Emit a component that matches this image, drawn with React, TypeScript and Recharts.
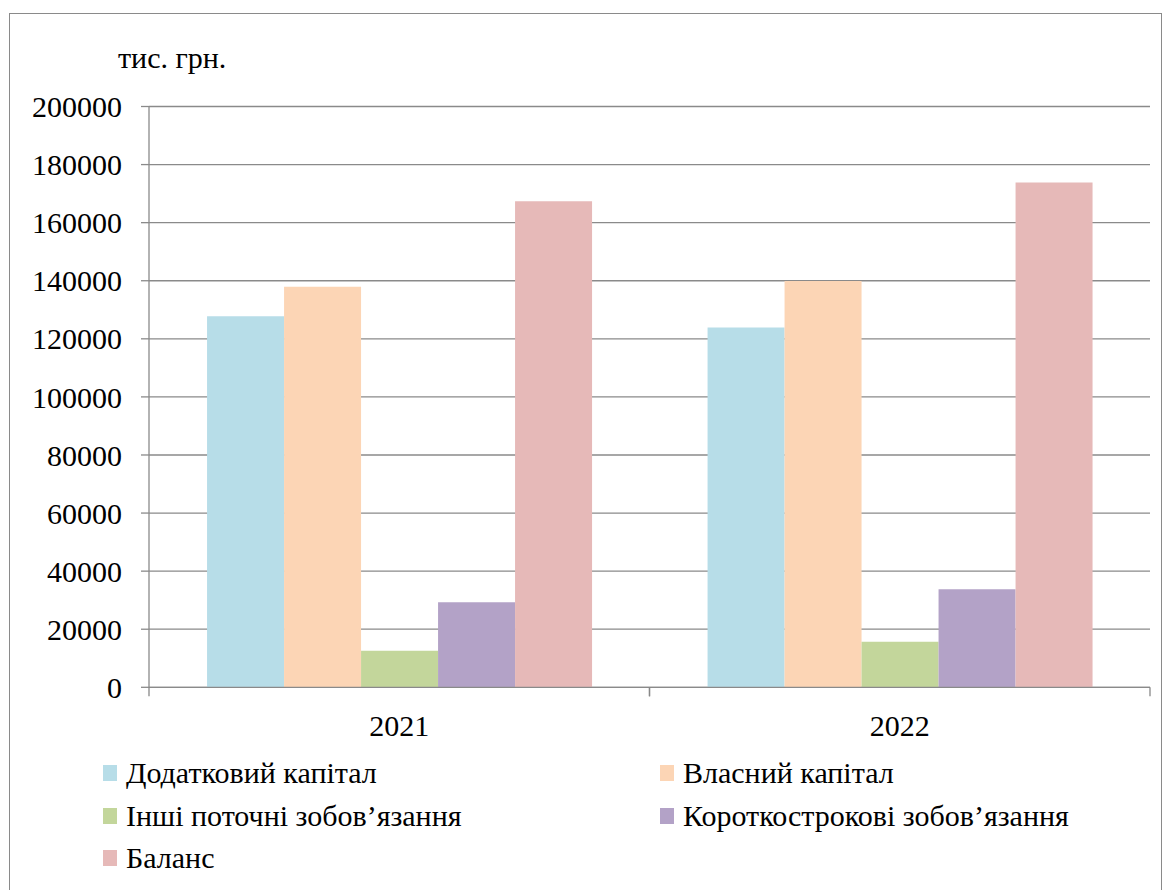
import { BarChart, Bar, XAxis, YAxis, CartesianGrid } from "recharts"

const years = ["2021", "2022"]
const seriesNames = [
  "Додатковий капітал",
  "Власний капітал",
  "Інші поточні зобов’язання",
  "Короткострокові зобов’язання",
  "Баланс",
]
const seriesColors = ["#B7DDE8", "#FCD5B5", "#C3D69B", "#B3A2C7", "#E6B9B8"]
const dodatkovyi = [127800, 123900]
const vlasnyi = [137900, 139900]
const inshi = [12600, 15700]
const korotko = [29300, 33800]
const balans = [167400, 173800]
const yTicks = [0, 20000, 40000, 60000, 80000, 100000, 120000, 140000, 160000, 180000, 200000]

const seriesValues = [dodatkovyi, vlasnyi, inshi, korotko, balans]

const data = years.map((year, i) => {
  const row: Record<string, string | number> = { year }
  seriesValues.forEach((vals, s) => {
    row["s" + s] = vals[i]
  })
  return row
})

const FONT = "Liberation Serif, Tinos, Times New Roman, Times, DejaVu Serif, Noto Serif, serif"
const PLOT_LEFT = 149
const PLOT_RIGHT = 1150
const BAND = (PLOT_RIGHT - PLOT_LEFT) / years.length

function YearTick(props: any) {
  const { x, y, payload } = props
  const left = x - BAND / 2
  const right = x + BAND / 2
  return (
    <g>
      <line x1={left} x2={left} y1={y} y2={y + 9} stroke="#888" strokeWidth={1.3} />
      <line x1={right} x2={right} y1={y} y2={y + 9} stroke="#888" strokeWidth={1.3} />
      <text x={x} y={y + 49} textAnchor="middle" style={{ fontFamily: FONT }} fontSize={30} fill="#000">
        {payload.value}
      </text>
    </g>
  )
}

export default function App() {
  return (
    <div style={{ position: "absolute", left: 0, top: 0, width: 1165, height: 890, background: "#fff", overflow: "hidden", fontFamily: FONT }}>
      <div
        style={{
          position: "absolute",
          left: 9,
          top: 13,
          width: 1153,
          height: 900,
          border: "1.3px solid #8a8a8a",
          boxSizing: "border-box",
        }}
      />
      <div
        style={{
          position: "absolute",
          left: 118,
          top: 40,
          fontSize: 30,
          lineHeight: "36px",
          color: "#000",
          whiteSpace: "nowrap",
        }}
      >
        тис. грн.
      </div>
      <div style={{ position: "absolute", left: 0, top: 0 }}>
        <BarChart
          width={1165}
          height={890}
          data={data}
          margin={{ top: 106.5, right: 1165 - PLOT_RIGHT, left: 9, bottom: 890 - 687.3 - 60 }}
          barCategoryGap="11.6%"
          barGap={0}
          style={{ fontFamily: FONT }}
        >
          <CartesianGrid vertical={false} stroke="#8a8a8a" strokeWidth={1.3} />
          <XAxis
            dataKey="year"
            height={60}
            stroke="#8a8a8a"
            strokeWidth={1.3}
            tickLine={false}
            tickSize={0}
            tickMargin={0}
            tick={<YearTick />}
            interval={0}
          />
          <YAxis
            width={PLOT_LEFT - 9}
            domain={[0, 200000]}
            ticks={yTicks}
            stroke="#8a8a8a"
            strokeWidth={1.3}
            tickSize={8}
            tickMargin={19}
            tick={{ fill: "#000", fontSize: 30, style: { fontFamily: FONT } }}
            interval={0}
          />
          {seriesNames.map((name, s) => (
            <Bar key={name} dataKey={"s" + s} name={name} fill={seriesColors[s]} isAnimationActive={false} />
          ))}
        </BarChart>
      </div>
      {seriesNames.map((name, s) => (
        <div
          key={name}
          style={{
            position: "absolute",
            left: s % 2 === 0 ? 103 : 660,
            top: 755 + Math.floor(s / 2) * 42.5,
            display: "flex",
            alignItems: "center",
            fontSize: 30,
            lineHeight: "36px",
            color: "#000",
            whiteSpace: "nowrap",
          }}
        >
          <span style={{ display: "inline-block", width: 14, height: 16, background: seriesColors[s], marginRight: 9 }} />
          {name}
        </div>
      ))}
    </div>
  )
}
